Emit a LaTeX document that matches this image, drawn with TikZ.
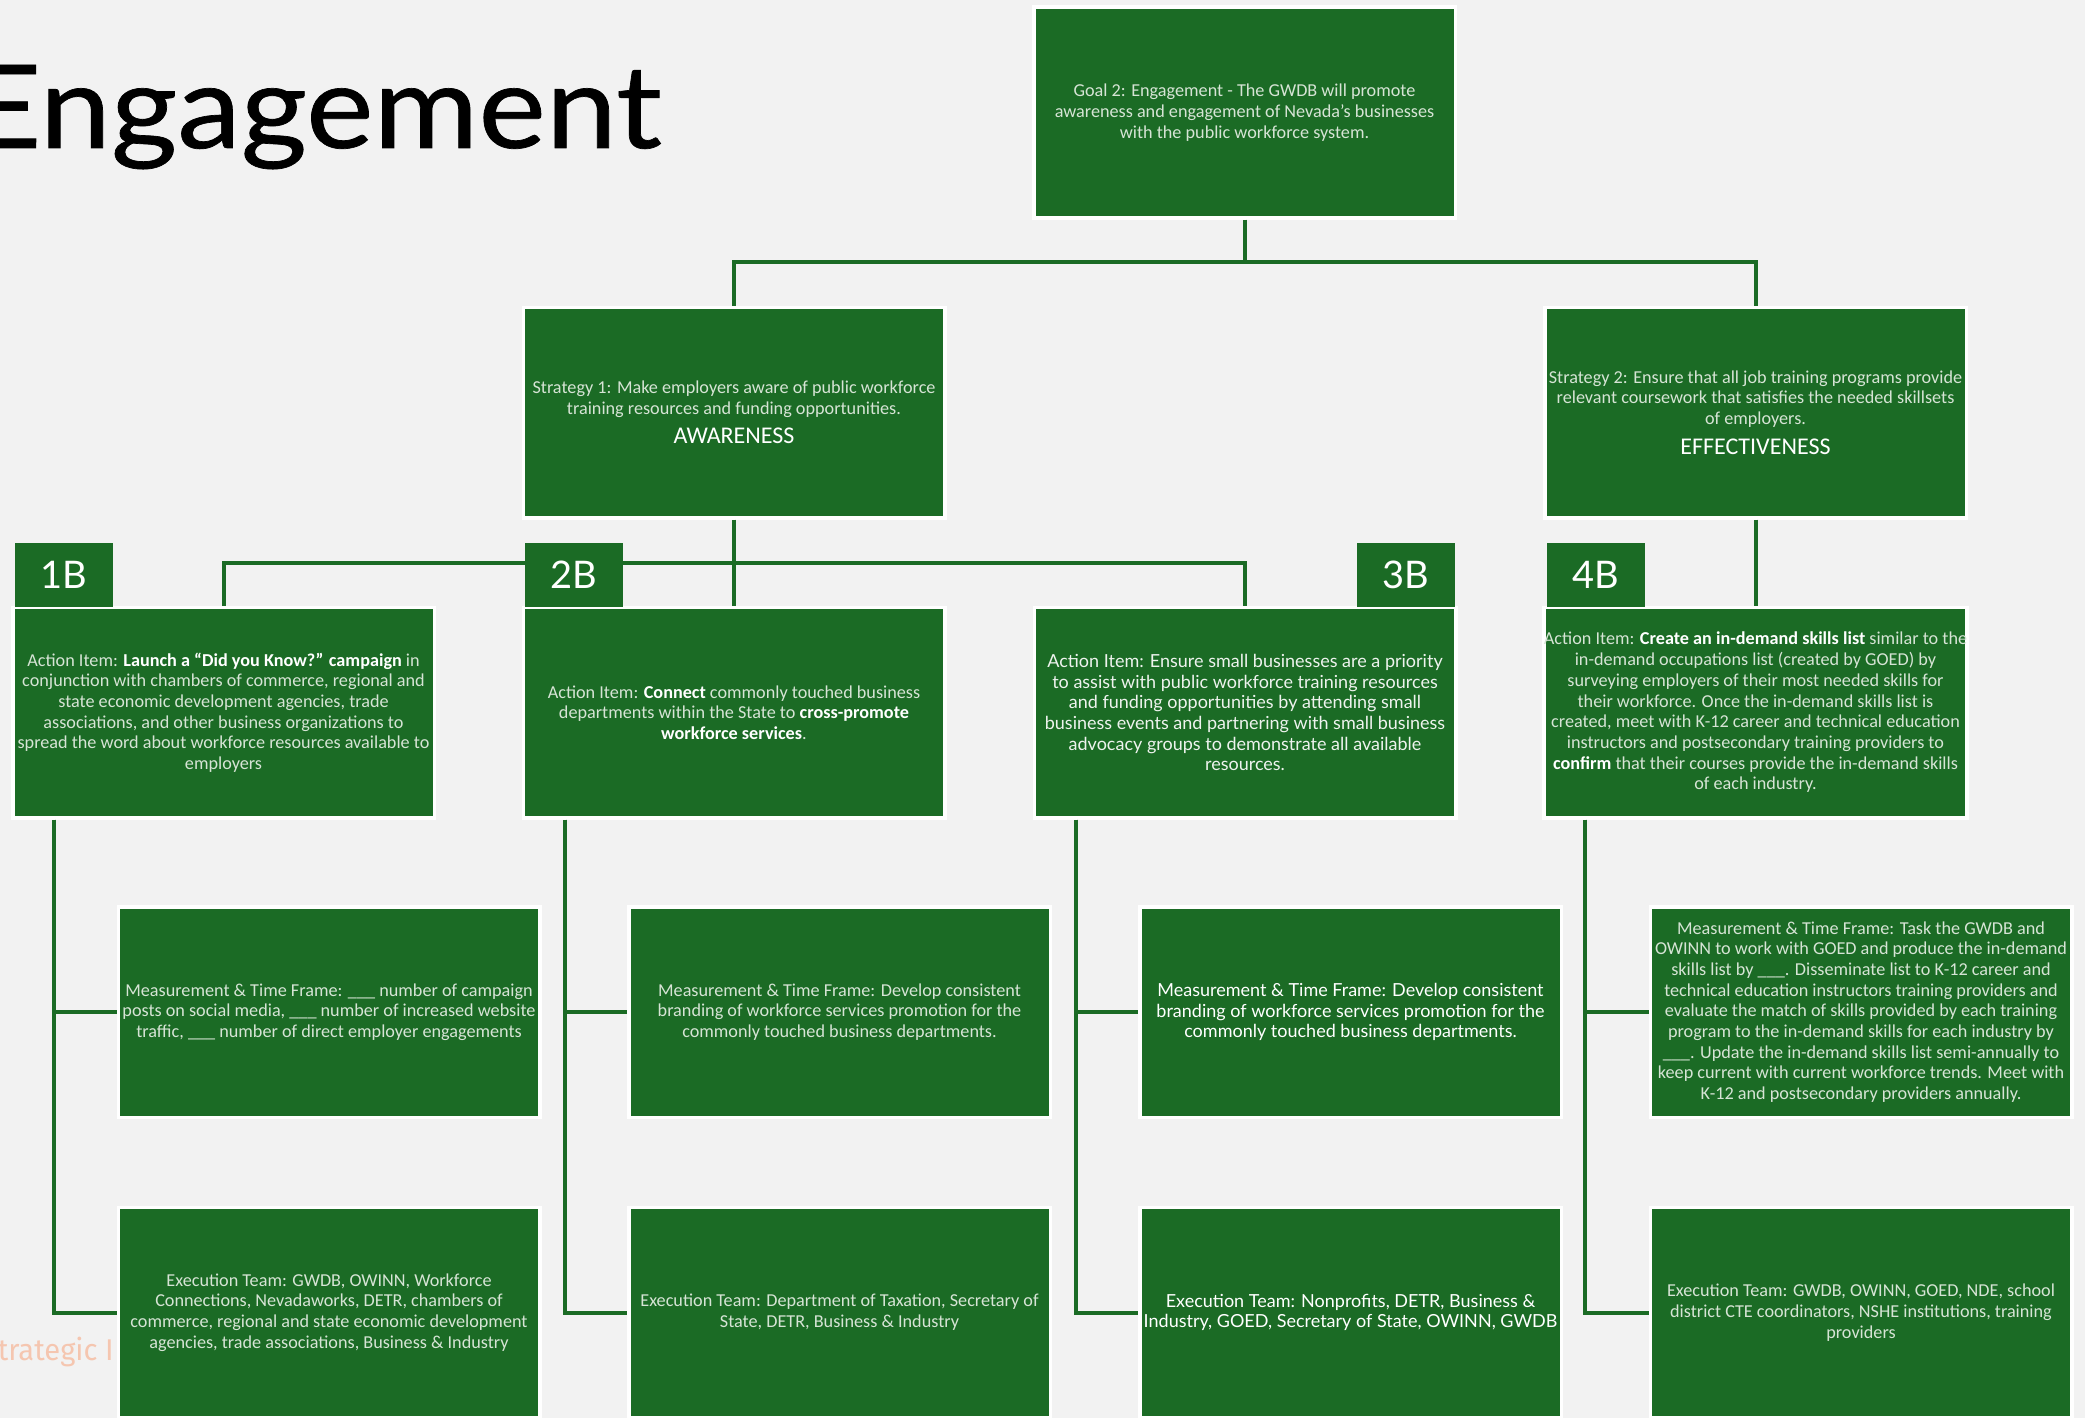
\documentclass[tikz,border=0pt]{standalone}
\usepackage{fontspec}
\setmainfont{Carlito}
\newfontfamily\aptos{Lato}
\newfontfamily\titlefont[FakeStretch=1.1,FakeBold=0.6]{Lato}
\newfontfamily\footfont[FakeStretch=0.97]{Fira Sans}
\usetikzlibrary{calc}
\definecolor{bg}{HTML}{F2F2F2}
\definecolor{gr}{HTML}{1B6B25}
\definecolor{txt}{HTML}{D6E4D5}
\definecolor{txtb}{HTML}{EEF3EE}
\definecolor{salmon}{HTML}{F5C6B0}
\newcommand\wb[1]{\textcolor{white}{\textbf{#1}}}
\begin{document}
\begin{tikzpicture}[x=1pt,y=-1pt,
  box/.style={draw=white, line width=3.5pt, fill=gr, minimum width=421.5pt, minimum height=210.5pt,
    inner sep=0pt, align=center, text=txt, font=\fontsize{18.2}{20.7}\selectfont},
  abox/.style={box, text=txtb, font=\aptos\fontsize{18}{20.7}\selectfont},
  lab/.style={fill=gr, minimum width=98pt, minimum height=64pt, inner sep=0pt, text=white,
    font=\aptos\fontsize{38}{38}\selectfont},
  conn/.style={draw=gr, line width=4pt}]
\useasboundingbox (0,0) rectangle (2085,1418);
\fill[bg] (0,0) rectangle (2085,1418);
\node[anchor=base east, inner sep=0pt, font=\titlefont\fontsize{116}{116}\selectfont] (title) at (662,148) {Engagement};
\node[anchor=base east, inner sep=0pt, text=salmon, font=\footfont\fontsize{30}{30}\selectfont] (foot) at (114,1360) {Strategic I};

% nodes
\node[box] (goal) at (1244.5,112.5) {Goal 2: Engagement - The GWDB will promote\\ awareness and engagement of Nevada’s businesses\\ with the public workforce system.};
\node[box] (s1) at (734,412.5) {Strategy 1: Make employers aware of public workforce\\ training resources and funding opportunities.\\[9pt] {\color{white}\fontsize{24}{28}\selectfont AWARENESS}};
\node[box] (s2) at (1755.5,412.5) {Strategy 2: Ensure that all job training programs provide\\ relevant coursework that satisfies the needed skillsets\\ of employers.\\[9pt] {\color{white}\fontsize{24}{28}\selectfont EFFECTIVENESS}};

\node[box] (a1) at (223.5,712.5) {Action Item: \wb{Launch a “Did you Know?” campaign} in\\ conjunction with chambers of commerce, regional and\\ state economic development agencies, trade\\ associations, and other business organizations to\\ spread the word about workforce resources available to\\ employers};
\node[box] (a2) at (734,712.5) {Action Item: \wb{Connect} commonly touched business\\ departments within the State to \wb{cross-promote}\\ \wb{workforce services}.};
\node[abox] (a3) at (1245,712.5) {Action Item: Ensure small businesses are a priority\\ to assist with public workforce training resources\\ and funding opportunities by attending small\\ business events and partnering with small business\\ advocacy groups to demonstrate all available\\ resources.};
\node[box] (a4) at (1755.5,712.5) {Action Item: \wb{Create an in-demand skills list} similar to the\\ in-demand occupations list (created by GOED) by\\ surveying employers of their most needed skills for\\ their workforce. Once the in-demand skills list is\\ created, meet with K-12 career and technical education\\ instructors and postsecondary training providers to\\ \wb{confirm} that their courses provide the in-demand skills\\ of each industry.};

\node[box] (m1) at (329,1012) {Measurement \& Time Frame: \_\_\_ number of campaign\\ posts on social media, \_\_\_ number of increased website\\ traffic, \_\_\_ number of direct employer engagements};
\node[box] (m2) at (839.5,1012) {Measurement \& Time Frame: Develop consistent\\ branding of workforce services promotion for the\\ commonly touched business departments.};
\node[abox, text=white] (m3) at (1350.5,1012) {Measurement \& Time Frame: Develop consistent\\ branding of workforce services promotion for the\\ commonly touched business departments.};
\node[box] (m4) at (1861,1012) {Measurement \& Time Frame: Task the GWDB and\\ OWINN to work with GOED and produce the in-demand\\ skills list by \_\_\_. Disseminate list to K-12 career and\\ technical education instructors training providers and\\ evaluate the match of skills provided by each training\\ program to the in-demand skills for each industry by\\ \_\_\_. Update the in-demand skills list semi-annually to\\ keep current with current workforce trends. Meet with\\ K-12 and postsecondary providers annually.};

\node[box] (e1) at (329,1312.5) {Execution Team: GWDB, OWINN, Workforce\\ Connections, Nevadaworks, DETR, chambers of\\ commerce, regional and state economic development\\ agencies, trade associations, Business \& Industry};
\node[box] (e2) at (839.5,1312.5) {Execution Team: Department of Taxation, Secretary of\\ State, DETR, Business \& Industry};
\node[abox, text=white] (e3) at (1350.5,1312.5) {Execution Team: Nonprofits, DETR, Business \&\\ Industry, GOED, Secretary of State, OWINN, GWDB};
\node[box] (e4) at (1861,1312.5) {Execution Team: GWDB, OWINN, GOED, NDE, school\\ district CTE coordinators, NSHE institutions, training\\ providers};

% connectors
\coordinate (j0) at ($(goal.south)+(0,42)$);
\coordinate (j1) at ($(s1.south)+(0,43)$);
\coordinate (v1) at ($(a1.south west)+(43,0)$);
\coordinate (v2) at ($(a2.south west)+(43,0)$);
\coordinate (v3) at ($(a3.south west)+(43,0)$);
\coordinate (v4) at ($(a4.south west)+(43,0)$);
\draw[conn] (goal.south) -- (j0);
\draw[conn] (j0) -| (s1.north);
\draw[conn] (j0) -| (s2.north);
\draw[conn] (s1.south) -- (a2.north);
\draw[conn] (j1) -| (a1.north);
\draw[conn] (j1) -| (a3.north);
\draw[conn] (s2.south) -- (a4.north);
\draw[conn] (v1) |- (e1.west); \draw[conn] (v1) |- (m1.west);
\draw[conn] (v2) |- (e2.west); \draw[conn] (v2) |- (m2.west);
\draw[conn] (v3) |- (e3.west); \draw[conn] (v3) |- (m3.west);
\draw[conn] (v4) |- (e4.west); \draw[conn] (v4) |- (m4.west);

% labels
\node[lab] (l1) at (64,575) {1B};
\node[lab] (l2) at (574,575) {2B};
\node[lab] (l3) at (1406,575) {3B};
\node[lab] (l4) at (1596,575) {4B};
\end{tikzpicture}
\end{document}
